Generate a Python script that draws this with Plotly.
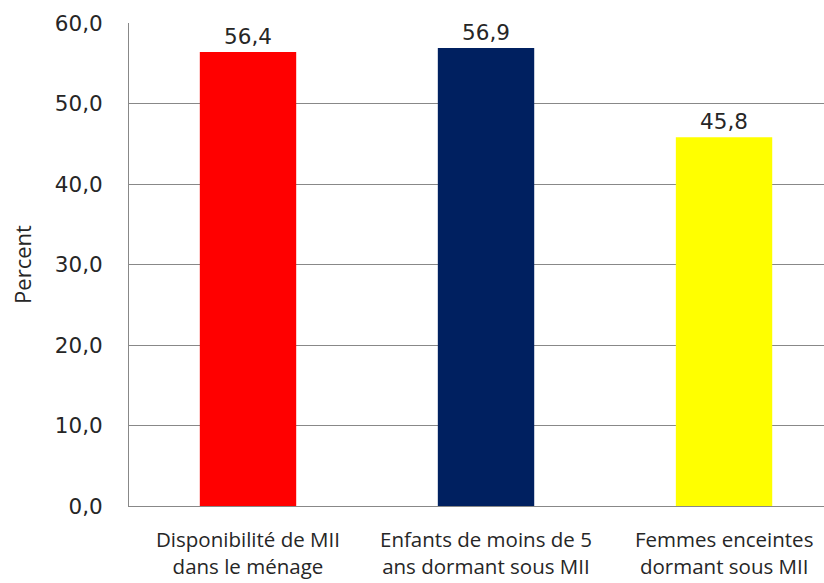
import plotly.graph_objects as go

categories = ["Disponibilité de MII<br>dans le ménage",
              "Enfants de moins de 5<br>ans dormant sous MII",
              "Femmes enceintes<br>dormant sous MII"]
values = [56.4, 56.9, 45.8]
colors = ["#FF0000", "#002060", "#FFFF00"]
y_ticks = [0, 10, 20, 30, 40, 50, 60]

fig = go.Figure(go.Bar(
    x=[0, 1, 2], y=values, marker=dict(color=colors, line=dict(width=0)),
    width=0.405,
    text=values, texttemplate="%{y:.1f}", textposition="outside",
    textfont=dict(family="DejaVu Sans", size=21.5, color="#262626"),
    cliponaxis=False,
))

# category labels as annotations below the axis
for i, cat in enumerate(categories):
    fig.add_annotation(
        x=i, xref="x", y=-0.156, yref="paper",
        text=cat, showarrow=False, xanchor="center", yanchor="bottom",
        borderpad=0,
        font=dict(family="Open Sans", size=20.5, color="#262626"),
    )

fig.update_layout(
    width=824, height=583,
    margin=dict(l=129, r=0, t=23, b=77),
    plot_bgcolor="white", paper_bgcolor="white",
    separators=",.",
    showlegend=False,
    font=dict(family="DejaVu Sans", color="#262626"),
    xaxis=dict(
        range=[-0.5, 2.42], tickvals=[0, 1, 2], showticklabels=False,
        showgrid=False, showline=True, linecolor="#888888", linewidth=1,
        ticks="", zeroline=False, automargin=False,
    ),
    yaxis=dict(
        range=[0, 60], tickvals=y_ticks, tickformat=".1f",
        showgrid=True, gridcolor="#888888", gridwidth=1,
        showline=True, linecolor="#888888", linewidth=1,
        ticks="outside", ticklen=21, tickcolor="rgba(0,0,0,0)",
        tickfont=dict(family="DejaVu Sans", size=21.5, color="#262626"),
        title=dict(text="Percent", font=dict(family="Open Sans", size=22, color="#262626"), standoff=17),
        zeroline=False, automargin=False,
    ),
)

fig.write_html("out.html", config={"displayModeBar": False},
               post_script="document.body.style.margin='0';document.body.style.overflow='hidden';")
